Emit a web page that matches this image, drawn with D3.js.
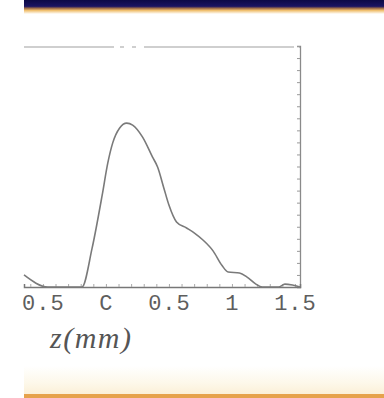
<!DOCTYPE html>
<html><head><meta charset="utf-8">
<script src="https://cdn.jsdelivr.net/npm/d3@7"></script>
<style>html,body{margin:0;padding:0;background:#fff;}svg{display:block;}</style>
</head><body>
<svg id="c" width="384" height="398"></svg>
<script>
// Data
const zValues = [-0.65,-0.46,-0.19,-0.11,-0.03,0.015,0.054,0.109,0.165,0.212,0.291,0.37,0.41,0.46,0.50,0.56,0.64,0.70,0.77,0.85,0.92,0.97,1.06,1.12,1.19,1.24,1.37,1.42,1.48,1.54];
const intensity = [0.05,0,0,0.16,0.38,0.515,0.598,0.66,0.68,0.672,0.622,0.539,0.498,0.41,0.34,0.27,0.245,0.225,0.195,0.15,0.09,0.062,0.058,0.041,0.012,0,0,0.012,0.008,0];
const tickValues = [-0.5,0,0.5,1,1.5];
const tickLabels = ["0.5","C","0.5","1","1.5"];
const xLabel = "z(mm)";

const svg = d3.select("#c");
const defs = svg.append("defs");
const gTop = defs.append("linearGradient").attr("id","gt").attr("x1",0).attr("y1",0).attr("x2",0).attr("y2",1);
gTop.append("stop").attr("offset","0").attr("stop-color","#0c0a45");
gTop.append("stop").attr("offset","0.45").attr("stop-color","#1a1462");
gTop.append("stop").attr("offset","0.6").attr("stop-color","#a0704a");
gTop.append("stop").attr("offset","0.75").attr("stop-color","#f0c070");
gTop.append("stop").attr("offset","1").attr("stop-color","#ffffff");
const gBot = defs.append("linearGradient").attr("id","gb").attr("x1",0).attr("y1",0).attr("x2",0).attr("y2",1);
gBot.append("stop").attr("offset","0").attr("stop-color","#ffffff");
gBot.append("stop").attr("offset","0.6").attr("stop-color","#fdf8ea");
gBot.append("stop").attr("offset","1").attr("stop-color","#fbf0d8");

// decorative slide bars
svg.append("rect").attr("x",24).attr("y",0).attr("width",360).attr("height",14).attr("fill","url(#gt)");
svg.append("rect").attr("x",24).attr("y",366).attr("width",360).attr("height",28).attr("fill","url(#gb)");
svg.append("rect").attr("x",24).attr("y",394).attr("width",360).attr("height",4).attr("fill","#e6a24c");

const L = 24, R = 300, T = 46, B = 287;
const x = d3.scaleLinear().domain([-0.65,1.54]).range([L,R]);
const y = d3.scaleLinear().domain([0,1]).range([B,T]);

// top dashed frame
svg.append("line").attr("x1",L).attr("x2",R).attr("y1",T+1).attr("y2",T+1)
  .attr("stroke","#a0a0a0").attr("stroke-width",1.2).attr("stroke-dasharray","90,6,4,8,4,8,150,5,4,4,10");

// right frame with inward ticks
const right = svg.append("g").attr("transform",`translate(${R},0)`)
  .call(d3.axisLeft(y).ticks(20).tickSize(3).tickFormat(""));
right.select(".domain").attr("stroke","#8a8a8a").attr("stroke-width",1.3);
right.selectAll(".tick line").attr("stroke","#999");

// bottom axis with small inward minor ticks
const minor = svg.append("g").attr("transform",`translate(0,${B})`)
  .call(d3.axisTop(x).ticks(22).tickSize(3).tickFormat(""));
minor.select(".domain").attr("stroke","#777").attr("stroke-width",1.5);
minor.selectAll(".tick line").attr("stroke","#aaa");

const lab = svg.append("g").attr("transform",`translate(0,${B})`)
  .call(d3.axisBottom(x).tickValues(tickValues).tickSize(0).tickPadding(7)
    .tickFormat((d,i)=>tickLabels[i]));
lab.select(".domain").remove();
lab.selectAll("text").attr("font-family","'Liberation Mono', 'DejaVu Sans Mono', monospace")
  .attr("font-size",22).attr("fill","#5e5e5e").attr("letter-spacing","1px");

// curve
svg.append("path").datum(zValues.map((z,i)=>[z,intensity[i]]))
  .attr("fill","none").attr("stroke","#7a7a7a").attr("stroke-width",1.6)
  .attr("d", d3.line().x(d=>x(d[0])).y(d=>y(d[1])).curve(d3.curveMonotoneX));

// axis title
svg.append("text").attr("x",50).attr("y",348).text(xLabel)
  .attr("font-family","'Liberation Serif', serif").attr("font-style","italic")
  .attr("font-size",30).attr("fill","#555").attr("letter-spacing","1.5px");
</script>
</body></html>
